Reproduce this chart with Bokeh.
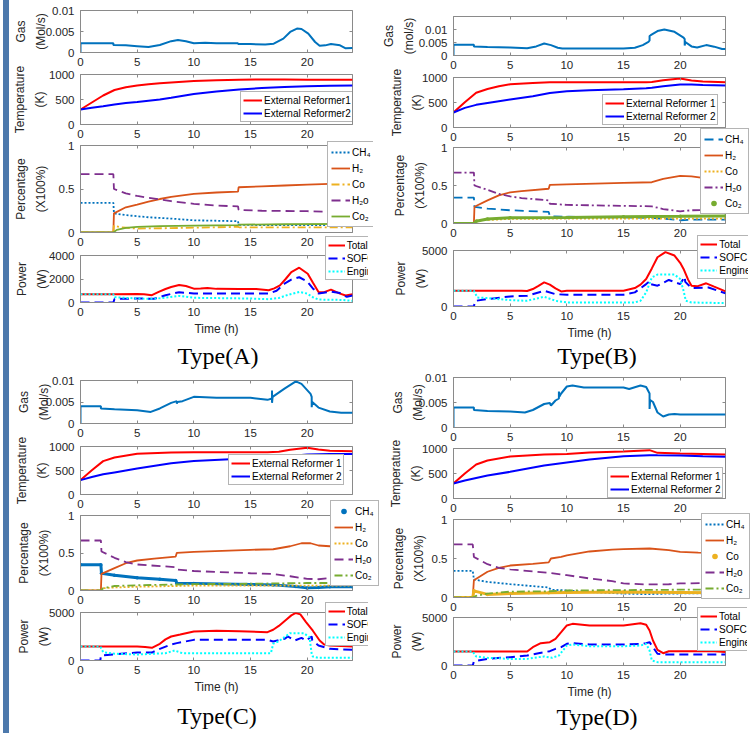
from bokeh.plotting import figure
from bokeh.models import Range1d, FixedTicker, LinearAxis, Legend, LegendItem, Div
from bokeh.layouts import column, row
from bokeh.core.properties import value
from bokeh.embed import file_html
from bokeh.resources import INLINE

# ---------------- ticks / labels ----------------
time_ticks = [0, 5, 10, 15, 20]
gas_ticks = [0, 0.005, 0.01]
gas_tick_text = ["0", "0.005", "0.01"]
temp_ticks = [0, 500, 1000]
pct_ticks = [0, 0.5, 1]
pct_tick_text = ["0", "0.5", "1"]
powA_ticks = [0, 2000, 4000]
pow_ticks = [0, 5000]
species = ["CH\u2084", "H\u2082", "Co", "H\u2082o", "Co\u2082"]
power_names = ["Total", "SOFC", "Engine"]
reformerA = ["External Reformer1", "External Reformer2"]
reformer = ["External Reformer 1", "External Reformer 2"]

# ---------------- Type(A) ----------------
gasA_t = [0, 0, 2.9, 2.9, 4, 5, 6, 7, 8, 8.6, 9.3, 10, 11, 12, 13.9, 13.9, 15, 16.3, 17.05, 17.9,
          18.5, 19.1, 19.5, 20.1, 20.7, 21.1, 21.6, 22.1, 22.9, 23.4, 24]
gasA_v = [0, 0.0022, 0.0022, 0.0018, 0.0017, 0.0015, 0.0013, 0.0018, 0.0027, 0.0030, 0.0027, 0.0022,
          0.0023, 0.0022, 0.0022, 0.0020, 0.0020, 0.0019, 0.0021, 0.0033, 0.0049, 0.0057, 0.0056,
          0.0045, 0.0025, 0.0016, 0.0017, 0.0020, 0.0017, 0.0010, 0.0011]
tempA_t = [0, 1, 2, 3, 4, 5, 6, 7, 8, 10, 12, 14, 16, 18, 20, 22, 24]
tempA_r1 = [300, 440, 580, 690, 745, 780, 805, 825, 840, 868, 885, 895, 900, 900, 895, 893, 893]
tempA_r2 = [300, 335, 365, 400, 428, 450, 475, 500, 535, 612, 660, 698, 728, 748, 763, 773, 780]
pA_ch4_t = [0, 2.9, 2.95, 4, 5, 6, 8, 10, 12, 13.9, 13.95, 16, 20, 24]
pA_ch4_v = [0.34, 0.34, 0.22, 0.2, 0.187, 0.175, 0.16, 0.14, 0.135, 0.13, 0.088, 0.086, 0.085, 0.085]
pA_h2_t = [0, 2.9, 2.95, 4, 5, 6, 7, 8, 10, 12, 13.9, 13.95, 16, 18, 20, 22, 24]
pA_h2_v = [0, 0, 0.22, 0.29, 0.32, 0.355, 0.385, 0.41, 0.445, 0.46, 0.47, 0.52, 0.53, 0.54, 0.55, 0.56, 0.57]
pA_co_t = [0, 2.9, 2.95, 3.5, 5, 8, 10, 13.9, 14, 18, 24]
pA_co_v = [0, 0, 0.08, 0.06, 0.045, 0.05, 0.055, 0.065, 0.06, 0.06, 0.06]
pA_h2o_t = [0, 2.9, 2.95, 4, 5, 6, 7, 8, 10, 12, 13.9, 13.95, 16, 20, 22, 24]
pA_h2o_v = [0.67, 0.67, 0.5, 0.45, 0.42, 0.4, 0.38, 0.36, 0.33, 0.31, 0.3, 0.26, 0.25, 0.245, 0.237, 0.23]
pA_co2_t = [0, 2.9, 3.2, 4, 5, 7, 10, 13.9, 14, 18, 24]
pA_co2_v = [0, 0, 0.03, 0.053, 0.065, 0.073, 0.08, 0.085, 0.09, 0.095, 0.1]
wA_tot_t = [0, 3, 5, 5.6, 6.3, 6.9, 7.5, 8, 8.7, 9.3, 10, 10.6, 11.2, 12, 14, 15.5, 16.6, 17.1, 17.6, 18.1,
            18.6, 19.3, 20.05, 20.5, 21, 21.5, 22.1, 22.9, 23.4, 24]
wA_tot_v = [700, 700, 720, 700, 620, 900, 1150, 1320, 1490, 1400, 1180, 1200, 1240, 1160, 1150, 1140,
            1040, 1200, 1460, 2000, 2590, 2960, 2450, 1700, 900, 880, 1100, 760, 590, 700]
wA_sofc_t = [0, 2.9, 3, 5, 6.5, 7.5, 8.7, 10, 15, 16.6, 17.3, 18, 18.6, 19.3, 20, 20.5, 21, 22.1, 22.9, 23.5, 24]
wA_sofc_v = [0, 0, 300, 340, 320, 620, 880, 760, 770, 760, 1000, 1600, 1950, 2150, 1800, 1200, 760, 930,
             800, 480, 600]
wA_eng_t = [0, 2.9, 3, 5, 6.5, 7.5, 8.7, 10, 15, 16.6, 17.5, 18.3, 19.3, 20, 20.5, 21, 23, 24]
wA_eng_v = [700, 700, 450, 340, 310, 420, 560, 400, 340, 280, 380, 650, 900, 760, 450, 250, 220, 140]

# ---------------- Type(B) ----------------
gasB_t = [0, 0, 1.8, 1.8, 3, 5, 6.5, 7.3, 8, 8.6, 9.2, 9.6, 12, 15, 16, 16.7, 17.2, 17.3, 17.3, 17.4,
          18, 18.6, 19.5, 20.3, 20.4, 20.4, 20.45, 21, 21.5, 22.3, 23, 23.7, 24]
gasB_v = [0, 0.0041, 0.0041, 0.0035, 0.0033, 0.0031, 0.0028, 0.0035, 0.0046, 0.0040, 0.0030, 0.0027,
          0.0027, 0.0027, 0.0030, 0.0040, 0.0052, 0.0058, 0.0075, 0.0078, 0.0094, 0.0100, 0.0091,
          0.0069, 0.0063, 0.0038, 0.0052, 0.0035, 0.0031, 0.0040, 0.0034, 0.0025, 0.0025]
tempB_t = [0, 1, 2, 3, 4, 5, 7, 8.5, 10, 12, 15, 17, 17.5, 18.5, 20, 21, 22, 24]
tempB_r1 = [300, 507, 696, 770, 824, 865, 892, 905, 905, 905, 905, 905, 912, 946, 980, 939, 919, 905]
tempB_r2 = [300, 392, 453, 490, 527, 560, 625, 690, 723, 743, 764, 784, 795, 824, 858, 858, 850, 838]
pB_ch4_t = [0, 1.8, 1.85, 3, 5, 8.4, 8.5, 10, 15, 17.5, 19, 20, 21, 24]
pB_ch4_v = [0.34, 0.34, 0.22, 0.196, 0.174, 0.152, 0.096, 0.09, 0.08, 0.075, 0.057, 0.043, 0.05, 0.05]
pB_h2_t = [0, 1.8, 1.85, 3, 4, 5, 6, 8.4, 8.5, 10, 15, 17.5, 18.5, 20, 21, 22, 24]
pB_h2_v = [0, 0, 0.22, 0.304, 0.37, 0.41, 0.426, 0.457, 0.509, 0.515, 0.535, 0.543, 0.587, 0.626, 0.62, 0.6, 0.6]
pB_co_t = [0, 1.8, 2, 5, 10, 24]
pB_co_v = [0, 0, 0.04, 0.06, 0.065, 0.065]
pB_h2o_t = [0, 1.8, 1.85, 3, 4, 5, 6, 8.4, 8.5, 10, 17.5, 18.5, 20, 21, 24]
pB_h2o_v = [0.67, 0.67, 0.5, 0.443, 0.39, 0.357, 0.335, 0.304, 0.26, 0.245, 0.226, 0.19, 0.16, 0.174, 0.18]
pB_co2_t = [0, 1.8, 2, 3, 5, 10, 15, 20, 24]
pB_co2_v = [0, 0, 0.03, 0.06, 0.075, 0.08, 0.09, 0.095, 0.1]
wB_tot_t = [0, 1.8, 6, 6.5, 7, 7.5, 8, 8.5, 9, 9.5, 10, 15, 16, 16.5, 17, 17.5, 18, 18.7, 19.5, 20,
            20.3, 20.7, 21, 21.5, 22.3, 23, 24]
wB_tot_v = [1400, 1400, 1400, 1380, 1560, 1850, 2150, 1950, 1620, 1350, 1400, 1400, 1650, 1950, 2450,
            3400, 4400, 4850, 4550, 3900, 3350, 2400, 1860, 1800, 2070, 1770, 1350]
wB_sofc_t = [0, 1.8, 1.9, 3, 5, 6.5, 8, 9, 10, 15, 16, 17, 17.3, 17.35, 18, 19, 20, 20.4, 20.45, 21, 22.5, 24]
wB_sofc_v = [0, 0, 500, 660, 900, 960, 1400, 1100, 1050, 1050, 1260, 2000, 2250, 2000, 1860, 2370, 2000,
             2660, 2200, 1650, 1700, 1170]
wB_eng_t = [0, 1.8, 2.1, 3, 5, 6.5, 8, 9, 10, 16, 16.5, 17, 17.5, 18, 19.5, 20, 20.3, 20.5, 21, 24]
wB_eng_v = [1400, 1400, 800, 750, 570, 510, 870, 510, 360, 360, 510, 1260, 2600, 2850, 2850, 2455, 1400,
            510, 360, 300]

# ---------------- Type(C) ----------------
gasC_t = [0, 0, 1.8, 1.8, 3, 5, 6.2, 7, 8, 8.5, 8.5, 8.55, 9, 10, 12, 15, 16.5, 16.9, 16.9, 16.9, 16.95,
          18, 19, 19.5, 20.3, 20.4, 20.4, 20.45, 21, 22, 23, 24]
gasC_v = [0, 0.004, 0.004, 0.0035, 0.0033, 0.0031, 0.0027, 0.0035, 0.0048, 0.0052, 0.0046, 0.0050,
          0.0052, 0.0062, 0.0060, 0.0060, 0.0055, 0.0058, 0.0077, 0.0048, 0.0062, 0.0081, 0.0098,
          0.0092, 0.0069, 0.0062, 0.0038, 0.0050, 0.0037, 0.0028, 0.0025, 0.0025]
tempC_t = [0, 1, 2, 3, 5, 8, 10, 16.5, 17.5, 18.5, 20, 21, 22, 24]
tempC_r1 = [300, 505, 695, 770, 847, 875, 880, 880, 890, 930, 972, 937, 910, 900]
tempC_r2 = [300, 365, 420, 460, 540, 653, 700, 770, 778, 800, 833, 840, 845, 845]
pC_ch4_t = [0, 1.8, 1.85, 3, 5, 7, 8.4, 8.5, 10, 15, 17, 19, 20, 21, 22, 24]
pC_ch4_v = [0.342, 0.342, 0.231, 0.204, 0.169, 0.15, 0.133, 0.098, 0.095, 0.08, 0.075, 0.053, 0.035,
            0.04, 0.05, 0.05]
pC_h2_t = [0, 1.8, 1.85, 3, 4, 5, 6.5, 8.4, 8.5, 10, 15, 17, 18.5, 19.5, 20.3, 21, 22, 24]
pC_h2_v = [0, 0, 0.222, 0.298, 0.364, 0.4, 0.425, 0.453, 0.502, 0.515, 0.542, 0.55, 0.59, 0.63, 0.63,
           0.6, 0.59, 0.59]
pC_co_t = [0, 1.8, 2, 3, 5, 8.5, 10, 24]
pC_co_v = [0, 0, 0.03, 0.04, 0.05, 0.06, 0.065, 0.065]
pC_h2o_t = [0, 1.8, 1.85, 3, 4, 5, 8.4, 8.5, 10, 15, 17, 18.5, 20, 21, 22, 24]
pC_h2o_v = [0.667, 0.667, 0.52, 0.436, 0.378, 0.347, 0.311, 0.28, 0.26, 0.23, 0.22, 0.19, 0.156, 0.15,
            0.165, 0.17]
pC_co2_t = [0, 1.8, 2, 3, 5, 8.5, 10, 15, 20, 24]
pC_co2_v = [0, 0, 0.03, 0.06, 0.07, 0.08, 0.085, 0.09, 0.1, 0.1]
wC_tot_t = [0, 5, 5.7, 6.3, 7, 7.5, 8, 8.8, 10, 12, 14, 16.5, 17, 17.5, 18.2, 18.6, 19, 19.4, 19.9,
            20.5, 21.1, 21.5, 22, 24]
wC_tot_v = [1450, 1450, 1400, 1320, 1740, 2200, 2500, 2700, 3020, 3100, 3050, 2950, 3200, 3600, 4300,
            4700, 4950, 4800, 4000, 3100, 2080, 1670, 1560, 1460]
wC_sofc_t = [0, 1.75, 1.8, 3, 5, 6.3, 7, 8, 8.5, 10, 16.5, 17, 18, 18.3, 18.9, 19.5, 19.9, 20.4, 20.45,
             21, 22, 24]
wC_sofc_v = [0, 0, 520, 650, 830, 830, 1215, 1670, 1810, 2150, 2150, 1980, 2260, 2500, 2080, 2360, 2080,
             2500, 2100, 1560, 1215, 1110]
wC_eng_t = [0, 1.75, 2, 3, 5, 7.5, 8.3, 9, 10, 16.8, 17, 17.5, 18, 18.5, 19.7, 20.2, 20.4, 20.5, 21, 24]
wC_eng_v = [1450, 1450, 870, 700, 625, 760, 1040, 760, 760, 760, 1740, 2010, 2430, 2850, 2850, 2430,
            700, 415, 280, 280]

# ---------------- Type(D) ----------------
gasD_t = [0, 0, 1.8, 1.8, 3, 5, 6.3, 7, 8, 8.5, 8.6, 9, 9.3, 9.3, 9.35, 9.5, 10, 10.5, 11.5, 15,
          15.5, 16.5, 17, 17.3, 17.3, 17.35, 17.6, 18, 18.5, 19, 19.5, 20, 24]
gasD_v = [0, 0.004, 0.004, 0.0035, 0.0033, 0.0032, 0.003, 0.0035, 0.0047, 0.0049, 0.0044, 0.0054,
          0.0058, 0.0072, 0.0062, 0.0068, 0.0082, 0.0084, 0.008, 0.008, 0.0077, 0.0084, 0.0081, 0.0068,
          0.0037, 0.0055, 0.0051, 0.003, 0.0022, 0.0026, 0.0027, 0.0026, 0.0026]
tempD_t = [0, 1, 2, 3, 5, 8, 10, 12, 15, 17.3, 18, 20, 22, 24]
tempD_r1 = [300, 500, 680, 760, 840, 880, 890, 920, 940, 967, 913, 900, 890, 880]
tempD_r2 = [300, 360, 410, 460, 533, 660, 720, 780, 847, 867, 865, 860, 845, 835]
pD_ch4_t = [0, 1.7, 1.8, 3, 5, 8.4, 8.6, 10, 12, 15, 17, 19, 22, 24]
pD_ch4_v = [0.342, 0.342, 0.23, 0.2, 0.171, 0.128, 0.1, 0.09, 0.07, 0.05, 0.043, 0.05, 0.055, 0.06]
pD_h2_t = [0, 1.7, 1.8, 3, 4, 5, 7, 8.4, 8.6, 9.5, 10, 12, 14, 15, 17.3, 19, 20, 21.6, 24]
pD_h2_v = [0, 0, 0.222, 0.33, 0.38, 0.41, 0.43, 0.45, 0.5, 0.52, 0.54, 0.59, 0.615, 0.62, 0.628, 0.607,
           0.585, 0.575, 0.57]
pD_co_t = [0, 1.7, 1.8, 3, 5, 8.4, 10, 15, 20, 24]
pD_co_v = [0, 0, 0.085, 0.04, 0.05, 0.06, 0.065, 0.07, 0.065, 0.06]
pD_h2o_t = [0, 1.7, 1.8, 3, 4, 5, 8.4, 10, 12, 14, 15, 17, 19, 20, 22, 24]
pD_h2o_v = [0.68, 0.68, 0.52, 0.427, 0.38, 0.36, 0.316, 0.286, 0.244, 0.21, 0.18, 0.167, 0.17, 0.18,
            0.185, 0.19]
pD_co2_t = [0, 1.7, 2, 3, 5, 8.4, 10, 15, 20, 24]
pD_co2_v = [0, 0, 0.02, 0.05, 0.075, 0.08, 0.09, 0.095, 0.1, 0.1]
wD_tot_t = [0, 6.5, 7, 7.7, 8.5, 9, 9.5, 10, 10.5, 12, 15, 16.5, 17, 17.3, 17.6, 18, 18.5, 19, 20, 23, 24]
wD_tot_v = [1450, 1450, 1910, 2330, 2430, 2780, 3470, 4170, 4340, 4170, 4170, 4400, 4240, 3650, 2600,
            1630, 1280, 1490, 1490, 1490, 1400]
wD_sofc_t = [0, 1.7, 1.8, 3, 5, 6.5, 7.5, 8.5, 9, 9.5, 10, 10.5, 12, 15, 16.5, 17, 17.3, 17.6, 18, 18.5, 24]
wD_sofc_v = [0, 0, 450, 690, 870, 1040, 1280, 1490, 1740, 1910, 2260, 2330, 2190, 2190, 2260, 2330, 2430,
             1910, 1220, 1150, 1150]
wD_eng_t = [0, 1.7, 2, 3, 5, 6.5, 7.5, 8, 8.7, 9.3, 10, 10.5, 12, 15, 16.5, 17, 17.3, 17.5, 18, 24]
wD_eng_v = [1450, 1450, 940, 800, 690, 690, 870, 940, 800, 1040, 2080, 2190, 2010, 2010, 2080, 2260,
            1560, 520, 350, 350]

# ---------------- styling ----------------
FONT = "Liberation Sans"
TXT = "#262626"
FRAME = "#8a8a8a"
GAS_C = "#0072BD"
PCT_COLORS = ["#0072BD", "#D95319", "#EDB120", "#7E2F8E", "#77AC30"]
RED, BLUE, CYAN = "#FF0000", "#0000FF", "#00FFFF"
BAR = "#4d79ac"
PCT_W = 1.8
POW_DASH = ["solid", "9 5", "2 2"]
POW_COLORS = [RED, BLUE, CYAN]


def style_axis(ax, ticks, text=None, show_labels=True):
    ax.ticker = FixedTicker(ticks=ticks)
    ax.axis_line_color = FRAME
    ax.major_tick_line_color = FRAME
    ax.major_tick_in = 3
    ax.major_tick_out = 0
    ax.minor_tick_line_color = None
    ax.major_label_text_font = FONT
    ax.major_label_text_color = TXT
    ax.major_label_text_font_size = "11.5px"
    if show_labels:
        if text is not None:
            ax.major_label_overrides = {k: s for k, s in zip(ticks, text)}
    else:
        # mirror axis: tick marks only
        ax.major_label_overrides = {k: "" for k in ticks}
        ax.major_label_standoff = 0


def panel(frame, box, yr, yticks, ytext, ytitle, title_standoff, xtitle=None):
    fx0, fy0, fx1, fy1 = frame
    bx0, by0, bx1, by1 = box
    p = figure(width=bx1 - bx0, height=by1 - by0, x_range=Range1d(0, 24), y_range=Range1d(*yr),
               min_border_left=fx0 - bx0, min_border_right=bx1 - fx1,
               min_border_top=fy0 - by0, min_border_bottom=by1 - fy1,
               output_backend="svg", toolbar_location=None,
               background_fill_color=None, border_fill_color=None,
               outline_line_color=FRAME, outline_line_width=1)
    p.xgrid.visible = False
    p.ygrid.visible = False
    xax = p.below[0]
    yax = p.left[0]
    style_axis(xax, time_ticks)
    xax.major_label_standoff = 5
    style_axis(yax, yticks, ytext)
    yax.major_label_standoff = 6
    yax.axis_label = ytitle
    yax.axis_label_text_font = FONT
    yax.axis_label_text_font_size = "12px"
    yax.axis_label_text_font_style = "normal"
    yax.axis_label_text_color = TXT
    yax.axis_label_text_line_height = 1.4
    yax.axis_label_standoff = title_standoff
    if xtitle:
        xax.axis_label = xtitle
        xax.axis_label_text_font = FONT
        xax.axis_label_text_font_size = "12px"
        xax.axis_label_text_font_style = "normal"
        xax.axis_label_text_color = TXT
        xax.axis_label_standoff = 3
    top = LinearAxis()
    style_axis(top, time_ticks, show_labels=False)
    top.axis_line_color = None
    p.add_layout(top, "above")
    right = LinearAxis()
    style_axis(right, yticks, show_labels=False)
    right.axis_line_color = None
    p.add_layout(right, "right")
    p.margin = (0, 0, 0, 0)
    return p


def legend_of(p, labels, rends, loc, lh, sp, pad, gw=19, lw=20):
    items = [LegendItem(label=value(l), renderers=[r]) for l, r in zip(labels, rends)]
    leg = Legend(items=items, location=loc, label_text_font=FONT, label_text_font_size="10px",
                 label_text_color="#000000", glyph_width=gw, glyph_height=lh, label_height=lh,
                 label_width=lw, spacing=sp, padding=pad, margin=0, label_standoff=2,
                 border_line_color="#6a6a6a", border_line_width=1,
                 background_fill_color="white", background_fill_alpha=1.0)
    p.add_layout(leg)


def legend_box(w, h):
    """Transparent figure holding a legend that overhangs a plot frame; its ranges
    lie outside the data so the copies of the series it holds stay out of view."""
    q = figure(width=w, height=h, x_range=Range1d(-2, -1), y_range=Range1d(-2, -1),
               x_axis_type=None, y_axis_type=None, toolbar_location=None, output_backend="svg",
               min_border_left=0, min_border_right=0, min_border_top=0, min_border_bottom=0,
               outline_line_color=None, background_fill_color=None, border_fill_color=None)
    q.xgrid.visible = False
    q.ygrid.visible = False
    return q


def gas_panel(frame, box, yr, t, v, unit, so):
    p = panel(frame, box, yr, gas_ticks, gas_tick_text, "Gas\n" + unit, so)
    p.line(t, v, line_color=GAS_C, line_width=2)
    return p


def temp_panel(frame, box, t, r1, r2, names, so, loc):
    p = panel(frame, box, (0, 1000), temp_ticks, None, "Temperature\n(K)", so)
    a = p.line(t, r1, line_color=RED, line_width=2)
    b = p.line(t, r2, line_color=BLUE, line_width=2)
    legend_of(p, names, [a, b], loc, 12, 1, 2)
    return p


def draw_species(p, series, styles):
    rends = []
    for (t, v), color, style in zip(series, PCT_COLORS, styles):
        if style == "dots":
            p.line(t, v, line_color=color, line_width=3)
            r = p.scatter(t, v, size=3.5, fill_color=color, line_color=None, marker="circle")
        elif style == "solid":
            r = p.line(t, v, line_color=color, line_width=PCT_W)
        else:
            r = p.line(t, v, line_color=color, line_width=PCT_W, line_dash=style)
        rends.append(r)
    return rends


def pct_panel(frame, box, series, styles, so, leg_w, leg_h):
    p = panel(frame, box, (0, 1), pct_ticks, pct_tick_text, "Percentage\n(X100%)", so)
    draw_species(p, series, styles)
    q = legend_box(leg_w, leg_h)
    legend_of(q, species, draw_species(q, series, styles), "top_left", 14, 2, 3)
    return p, q


def power_panel(frame, box, yr, yticks, series, so, leg_w, leg_h):
    p = panel(frame, box, yr, yticks, None, "Power\n(W)", so, xtitle="Time (h)")
    q = legend_box(leg_w, leg_h)
    rends = []
    for (t, v), color, dash in zip(series, POW_COLORS, POW_DASH):
        p.line(t, v, line_color=color, line_width=2, line_dash=dash)
        rends.append(q.line(t, v, line_color=color, line_width=2, line_dash=dash))
    legend_of(q, power_names, rends, "top_left", 12, 1, 2, gw=17, lw=34)
    return p, q


# ---------------- build panels (frame / figure boxes in page pixels) ----------------
L0, L1, R0, R1 = 9, 375, 375, 752

gA = gas_panel((78, 10, 353, 52), (L0, 0, L1, 70), (0, 0.01), gasA_t, gasA_v, "(Mol/s)", -5)
tA = temp_panel((77, 74, 353, 124), (L0, 62, L1, 141), tempA_t, tempA_r1, tempA_r2, reformerA, -1, (160, 2))
pA, lpA = pct_panel((76, 145, 353, 232), (L0, 141, L1, 250),
                    [(pA_ch4_t, pA_ch4_v), (pA_h2_t, pA_h2_v), (pA_co_t, pA_co_v), (pA_h2o_t, pA_h2o_v),
                     (pA_co2_t, pA_co2_v)],
                    ["2 2", "solid", "8 3 2 3", "9 5", "solid"], 8, 50, 90)
wA, lwA = power_panel((74, 255, 352, 302), (L0, 234, L1, 340), (0, 4000), powA_ticks,
                      [(wA_tot_t, wA_tot_v), (wA_sofc_t, wA_sofc_v), (wA_eng_t, wA_eng_v)], -3, 57, 50)

gB = gas_panel((453, 16, 726, 55), (R0, 0, R1, 73), (0, 0.015), gasB_t, gasB_v, "(mol/s)", 0)
tB = temp_panel((453, 77, 726, 127), (R0, 64, R1, 144), tempB_t, tempB_r1, tempB_r2, reformer, -5, (149, 2))
pB, lpB = pct_panel((453, 147, 726, 223), (R0, 126, R1, 241),
                    [(pB_ch4_t, pB_ch4_v), (pB_h2_t, pB_h2_v), (pB_co_t, pB_co_v), (pB_h2o_t, pB_h2o_v),
                     (pB_co2_t, pB_co2_v)],
                    ["9 5", "solid", "2 2", "8 3 2 3", "dots"], 2, 52, 95)
wB, lwB = power_panel((453, 250, 726, 306), (R0, 233, R1, 344), (0, 5000), pow_ticks,
                      [(wB_tot_t, wB_tot_v), (wB_sofc_t, wB_sofc_v), (wB_eng_t, wB_eng_v)], -9, 59, 50)

gC = gas_panel((78, 380, 353, 423), (L0, 372, L1, 441), (0, 0.01), gasC_t, gasC_v, "(Mol/s)", -8)
tC = temp_panel((78, 446, 353, 494), (L0, 433, L1, 511), tempC_t, tempC_r1, tempC_r2, reformer, -3, (148, 9))
pC, lpC = pct_panel((78, 515, 353, 590), (L0, 499, L1, 607),
                    [(pC_ch4_t, pC_ch4_v), (pC_h2_t, pC_h2_v), (pC_co_t, pC_co_v), (pC_h2o_t, pC_h2o_v),
                     (pC_co2_t, pC_co2_v)],
                    ["dots", "solid", "2 2", "9 5", "8 3 2 3"], 5, 45, 90)
wC, lwC = power_panel((80, 612, 353, 660), (L0, 600, L1, 700), (0, 5000), pow_ticks,
                      [(wC_tot_t, wC_tot_v), (wC_sofc_t, wC_sofc_v), (wC_eng_t, wC_eng_v)], -5, 57, 50)

gD = gas_panel((451, 377, 725, 427), (R0, 372, R1, 445), (0, 0.01), gasD_t, gasD_v, "(Mol/s)", -9)
tD = temp_panel((451, 448, 725, 498), (R0, 436, R1, 515), tempD_t, tempD_r1, tempD_r2, reformer, -4, (154, 0))
pD, lpD = pct_panel((451, 519, 725, 597), (R0, 511, R1, 614),
                    [(pD_ch4_t, pD_ch4_v), (pD_h2_t, pD_h2_v), (pD_co_t, pD_co_v), (pD_h2o_t, pD_h2o_v),
                     (pD_co2_t, pD_co2_v)],
                    ["2 2", "solid", "dots", "9 5", "8 3 2 3"], 3, 51, 92)
wD, lwD = power_panel((451, 617, 725, 665), (R0, 605, R1, 706), (0, 5000), pow_ticks,
                      [(wD_tot_t, wD_tot_v), (wD_sofc_t, wD_sofc_v), (wD_eng_t, wD_eng_v)], -5, 60, 50)


def type_div(text, h):
    return Div(text=text, width=200, height=h,
               styles={"font-family": "Liberation Serif", "font-size": "24px", "text-align": "center",
                       "line-height": "%dpx" % h, "color": "#000000"})


dA = type_div("Type(A)", 32)
dB = type_div("Type(B)", 32)
dC = type_div("Type(C)", 32)
dD = type_div("Type(D)", 30)

# (object, top y, bottom y, left x) in page pixels
left_items = [(gA, 0, 70, L0), (tA, 62, 141, L0), (pA, 141, 250, L0), (lpA, 141, 231, 325),
              (wA, 234, 340, L0), (lwA, 236, 286, 318), (dA, 340, 372, 118),
              (gC, 372, 441, L0), (tC, 433, 511, L0), (pC, 499, 607, L0), (lpC, 500, 590, 330),
              (wC, 600, 700, L0), (lwC, 602, 652, 318), (dC, 700, 732, 117)]
right_items = [(gB, 0, 73, R0), (tB, 64, 144, R0), (pB, 126, 241, R0), (lpB, 128, 223, 700),
               (wB, 233, 344, R0), (lwB, 235, 285, 693), (dB, 340, 372, 497),
               (gD, 372, 445, R0), (tD, 436, 515, R0), (pD, 511, 614, R0), (lpD, 513, 605, 701),
               (wD, 605, 706, R0), (lwD, 607, 657, 692), (dD, 702, 732, 497)]


def stack(items, x0):
    prev = 0
    kids = []
    for obj, y0, y1, left in items:
        obj.margin = (y0 - prev, 0, 0, left - x0)
        prev = y1
        kids.append(obj)
    return column(kids, spacing=0, margin=(0, 0, 0, 0))


colL = stack(left_items, L0)
colR = stack(right_items, R0)
bar = Div(text="", width=6, height=733, margin=(0, 0, 0, 3), styles={"background-color": BAR})
root = row([bar, colL, colR], spacing=0, margin=(0, 0, 0, 0))

open("out.html", "w").write(file_html(root, INLINE))
